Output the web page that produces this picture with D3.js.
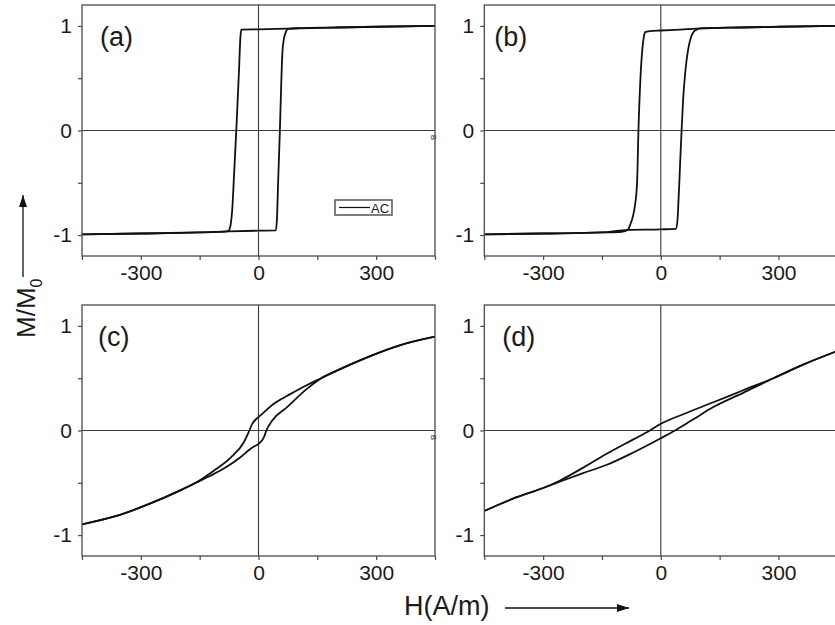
<!DOCTYPE html>
<html>
<head>
<meta charset="utf-8">
<script src="https://cdn.jsdelivr.net/npm/d3@7"></script>
<style>
  html, body { margin: 0; padding: 0; background: #fff; }
  svg { display: block; font-family: "Liberation Sans", Arial, sans-serif; }
</style>
</head>
<body>
<svg id="chart" width="835" height="625"></svg>
<script>
// Hysteresis loops M/M0 versus H(A/m), four samples (a)–(d).
// Each loop is stored as two branches (descending field / ascending field),
// listed in increasing H.

// (a)
const aDownH = [-450, -300, -150, -100, -80, -76, -71, -67, -62, -56, -50, -46, -44, 0, 77, 200, 300, 450];
const aDownM = [-0.993, -0.985, -0.975, -0.97, -0.965, -0.958, -0.9, -0.76, -0.4, 0.05, 0.55, 0.9, 0.964, 0.967, 0.975, 0.985, 0.992, 1.0];
const aUpH   = [-450, -300, -150, -76, 0, 44, 47, 50, 54.5, 58, 61, 65, 70, 76, 100, 200, 300, 450];
const aUpM   = [-0.993, -0.985, -0.975, -0.965, -0.958, -0.955, -0.85, -0.5, 0.0, 0.45, 0.75, 0.88, 0.945, 0.972, 0.978, 0.985, 0.992, 1.0];

// (b)
const bDownH = [-450, -300, -150, -100, -84, -78, -71, -66, -60.5, -57, -52, -47, -43, -40, -28, 0, 50, 91, 200, 300, 450];
const bDownM = [-0.993, -0.985, -0.975, -0.968, -0.95, -0.9, -0.82, -0.72, -0.5, 0.0, 0.49, 0.78, 0.9, 0.94, 0.95, 0.956, 0.965, 0.975, 0.985, 0.992, 1.0];
const bUpH   = [-450, -300, -150, -84, 0, 38, 42, 46, 50, 53, 57, 61, 65, 70, 76, 83, 90, 100, 200, 300, 450];
const bUpM   = [-0.993, -0.985, -0.975, -0.95, -0.945, -0.94, -0.88, -0.6, -0.25, 0.0, 0.3, 0.5, 0.65, 0.78, 0.88, 0.94, 0.962, 0.975, 0.985, 0.992, 1.0];

// (c)
const cDownH = [-450, -362, -277, -201, -160, -114, -71, -37, -25, -16, -6, 0, 39, 82, 124, 160, 201, 277, 362, 450];
const cDownM = [-0.897, -0.817, -0.70, -0.575, -0.50, -0.385, -0.26, -0.11, -0.016, 0.064, 0.11, 0.128, 0.256, 0.35, 0.435, 0.50, 0.575, 0.70, 0.817, 0.897];
const cUpH   = [-450, -362, -277, -201, -160, -124, -82, -46, -15, 0, 14, 20, 35, 73, 124, 160, 201, 277, 362, 450];
const cUpM   = [-0.897, -0.817, -0.70, -0.575, -0.50, -0.435, -0.35, -0.256, -0.16, -0.128, -0.064, 0.0, 0.096, 0.224, 0.40, 0.50, 0.575, 0.70, 0.817, 0.897];

// (d)
const dDownH = [-450, -369, -300, -258, -200, -139, -70, -28, 0, 60, 134, 210, 287, 363, 450];
const dDownM = [-0.77, -0.64, -0.55, -0.48, -0.36, -0.225, -0.085, 0.0, 0.064, 0.16, 0.27, 0.385, 0.50, 0.63, 0.76];
const dUpH   = [-450, -369, -300, -258, -200, -139, -70, 0, 36, 80, 134, 210, 287, 363, 450];
const dUpM   = [-0.77, -0.64, -0.55, -0.49, -0.41, -0.33, -0.21, -0.074, 0.0, 0.1, 0.224, 0.36, 0.50, 0.63, 0.76];

// Axis ticks
const hTicks = [-450, -300, -150, 0, 150, 300, 450];
const hTickLabels = [-300, 0, 300];
const mTicks = [-1, -0.5, 0, 0.5, 1];
const mTickLabels = [-1, 0, 1];
const hDomain = [-450, 450];
const mDomain = [-1.2, 1.2];

const panelNames = ["(a)", "(b)", "(c)", "(d)"];
const legendText = "AC";
const curveName = "B";
const xTitle = "H(A/m)";

// ---- layout ----
const W = 353, H = 251;
const layout = [
  { left: 82,    top: 5,   labelDx: 18, down: [aDownH, aDownM], up: [aUpH, aUpM], legend: true,  tag: true },
  { left: 484.3, top: 5,   labelDx: 10, down: [bDownH, bDownM], up: [bUpH, bUpM], legend: false, tag: false },
  { left: 82,    top: 305, labelDx: 16, down: [cDownH, cDownM], up: [cUpH, cUpM], legend: false, tag: true },
  { left: 484.3, top: 305, labelDx: 18, down: [dDownH, dDownM], up: [dUpH, dUpM], legend: false, tag: false }
];

const svg = d3.select("#chart");
const ink = "#111";
const frameCol = "#4a4a4a";

const x = d3.scaleLinear().domain(hDomain).range([0, W]);
const y = d3.scaleLinear().domain(mDomain).range([H, 0]);

const line = d3.line()
  .x(d => x(d[0]))
  .y(d => y(d[1]))
  .curve(d3.curveMonotoneX);

// plain hyphen for negative tick labels
const fmt = d => String(d);

layout.forEach((p, i) => {
  const g = svg.append("g").attr("transform", `translate(${p.left},${p.top})`);

  g.append("clipPath").attr("id", "clip" + i)
    .append("rect").attr("width", W).attr("height", H);

  // zero lines
  g.append("line").attr("x1", 0).attr("x2", W).attr("y1", y(0)).attr("y2", y(0))
    .attr("stroke", "#3a3a3a").attr("stroke-width", 1.1);
  g.append("line").attr("x1", x(0)).attr("x2", x(0)).attr("y1", 0).attr("y2", H)
    .attr("stroke", "#3a3a3a").attr("stroke-width", 1.1);

  // loop branches
  const plot = g.append("g").attr("clip-path", `url(#clip${i})`);
  [p.down, p.up].forEach(br => {
    const pts = br[0].map((h, k) => [h, br[1][k]]);
    plot.append("path").datum(pts)
      .attr("d", line)
      .attr("fill", "none")
      .attr("stroke", ink)
      .attr("stroke-width", 1.8)
      .attr("stroke-linejoin", "round");
  });

  // axes
  const xAxis = d3.axisBottom(x).tickValues(hTicks).tickSize(4).tickPadding(5)
    .tickFormat(d => hTickLabels.includes(d) ? fmt(d) : "");
  const yAxis = d3.axisLeft(y).tickValues(mTicks).tickSize(4).tickPadding(6)
    .tickFormat(d => mTickLabels.includes(d) ? fmt(d) : "");

  const gx = g.append("g").attr("transform", `translate(0,${H})`).call(xAxis);
  const gy = g.append("g").call(yAxis);
  [gx, gy].forEach(a => {
    a.select(".domain").remove();
    a.selectAll("line").attr("stroke", frameCol).attr("stroke-width", 1.2);
    a.selectAll("text").attr("font-size", 21).attr("fill", "#1a1a1a")
      .attr("font-family", "'Liberation Sans', Arial, sans-serif");
  });

  // frame
  g.append("rect").attr("width", W).attr("height", H)
    .attr("fill", "none").attr("stroke", frameCol).attr("stroke-width", 1.3);

  // panel tag
  g.append("text").attr("x", p.labelDx).attr("y", 41)
    .attr("font-size", 27).attr("fill", "#1a1a1a").text(panelNames[i]);

  // small curve name sitting on the right frame
  if (p.tag) {
    g.append("text")
      .attr("transform", `translate(${W - 1},${y(0) + 7}) rotate(90)`)
      .attr("text-anchor", "middle").attr("dy", "0.35em")
      .attr("font-size", 8).attr("fill", "#333").text(curveName);
  }

  if (p.legend) {
    const lg = g.append("g").attr("transform", `translate(${335 - p.left},${200 - p.top})`);
    lg.append("rect").attr("width", 57).attr("height", 15)
      .attr("fill", "#fff").attr("stroke", "#555").attr("stroke-width", 1.5);
    lg.append("line").attr("x1", 4).attr("x2", 35).attr("y1", 7.5).attr("y2", 7.5)
      .attr("stroke", ink).attr("stroke-width", 1.2);
    lg.append("text").attr("x", 36).attr("y", 12.5)
      .attr("font-size", 13).attr("fill", "#1a1a1a").text(legendText);
  }
});

// arrow heads
const defs = svg.append("defs");
defs.append("marker").attr("id", "arrow")
  .attr("viewBox", "0 0 12 8").attr("refX", 12).attr("refY", 4)
  .attr("markerWidth", 12).attr("markerHeight", 8)
  .attr("markerUnits", "userSpaceOnUse").attr("orient", "auto")
  .append("path").attr("d", "M0,0 L12,4 L0,8 Z").attr("fill", ink);

// y title: M/M0 with upward arrow
const yt = svg.append("text")
  .attr("transform", "translate(35,338) rotate(-90)")
  .attr("font-size", 26).attr("fill", "#1a1a1a");
yt.append("tspan").text("M/M");
yt.append("tspan").attr("font-size", 16).attr("dy", 7).text("0");

svg.append("line").attr("x1", 23).attr("x2", 23).attr("y1", 277).attr("y2", 195)
  .attr("stroke", ink).attr("stroke-width", 1.3).attr("marker-end", "url(#arrow)");

// x title with rightward arrow
svg.append("text").attr("x", 404).attr("y", 615)
  .attr("font-size", 27).attr("fill", "#1a1a1a").text(xTitle);
svg.append("line").attr("x1", 505).attr("x2", 629).attr("y1", 608).attr("y2", 608)
  .attr("stroke", ink).attr("stroke-width", 1.3).attr("marker-end", "url(#arrow)");
</script>
</body>
</html>
